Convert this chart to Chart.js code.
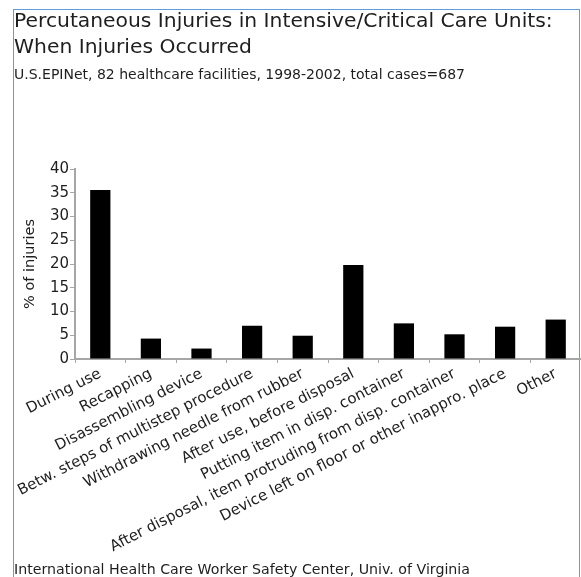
<!DOCTYPE html>
<html>
<head>
<meta charset="utf-8">
<script src="https://cdn.jsdelivr.net/npm/chart.js@4.4.0/dist/chart.umd.min.js"></script>
<style>
  html, body { margin: 0; padding: 0; background: #fff; width: 581px; height: 577px; overflow: hidden; }
  #frame { position: absolute; left: 13px; top: 9px; width: 565px; height: 600px;
           border-left: 1px solid #5f9fd6; border-top: 1px solid #5f9fd6; border-right: 1px solid #5f9fd6; }
  .txt { position: absolute; font-family: 'DejaVu Sans', Verdana, sans-serif; color: #1e1e1e; white-space: nowrap; }
  #title { left: 14px; top: 7px; font-size: 20.3px; line-height: 26px; }
  #subtitle { left: 14px; top: 66px; font-size: 14px; }
  #footer { left: 14px; top: 561px; font-size: 14.2px; }
  #chartWrap { position: absolute; left: 0; top: 0; width: 581px; height: 577px; }
</style>
</head>
<body>
<div id="frame"></div>
<div id="chartWrap"><canvas id="c" width="581" height="577"></canvas></div>
<div class="txt" id="title">Percutaneous Injuries in Intensive/Critical Care Units:<br>When Injuries Occurred</div>
<div class="txt" id="subtitle">U.S.EPINet, 82 healthcare facilities, 1998-2002, total cases=687</div>
<div class="txt" id="footer">International Health Care Worker Safety Center, Univ. of Virginia</div>
<script>
const categories = [
  "During use",
  "Recapping",
  "Disassembling device",
  "Betw. steps of multistep procedure",
  "Withdrawing needle from rubber",
  "After use, before disposal",
  "Putting item in disp. container",
  "After disposal, item protruding from disp. container",
  "Device left on floor or other inappro. place",
  "Other"
];
const percentInjuries = [35.6, 4.3, 2.2, 7.0, 4.9, 19.8, 7.5, 5.2, 6.8, 8.3];
const yTickValues = [0, 5, 10, 15, 20, 25, 30, 35, 40];
const yAxisTitle = "% of injuries";

const FONT = "'DejaVu Sans', Verdana, sans-serif";
const AXIS = "#a6a6a6";

new Chart(document.getElementById('c'), {
  type: 'bar',
  data: {
    labels: categories,
    datasets: [{
      data: percentInjuries,
      backgroundColor: '#000000',
      borderColor: '#000000',
      borderWidth: 0,
      categoryPercentage: 1.0,
      barPercentage: 0.4
    }]
  },
  options: {
    responsive: false,
    animation: false,
    events: [],
    layout: { padding: { top: 169, left: 0, right: 0, bottom: 0 } },
    plugins: { legend: { display: false }, tooltip: { enabled: false }, title: { display: false } },
    scales: {
      x: {
        grid: { display: true, offset: true, drawOnChartArea: false, drawTicks: true, tickLength: 4, color: AXIS, lineWidth: 1 },
        border: { display: true, color: AXIS, width: 2 },
        ticks: { minRotation: 27, maxRotation: 27, autoSkip: false, padding: 2, color: '#1e1e1e', font: { family: FONT, size: 15 } },
        afterFit: (s) => { s.height = 218; s.paddingLeft = 0; s.paddingRight = 0; }
      },
      y: {
        min: 0, max: 40,
        afterBuildTicks: (s) => { s.ticks = yTickValues.map(v => ({ value: v })); },
        grid: { display: true, drawOnChartArea: false, drawTicks: true, tickLength: 5, color: AXIS, lineWidth: 1 },
        border: { display: true, color: AXIS, width: 2 },
        ticks: { padding: 1, color: '#1e1e1e', font: { family: FONT, size: 15 } },
        title: { display: true, text: yAxisTitle, color: '#1e1e1e', font: { family: FONT, size: 14.5 }, padding: { top: 22, bottom: 0 } },
        afterFit: (s) => { s.width = 75; s.paddingTop = 0; s.paddingBottom = 0; }
      }
    }
  }
});
</script>
</body>
</html>
